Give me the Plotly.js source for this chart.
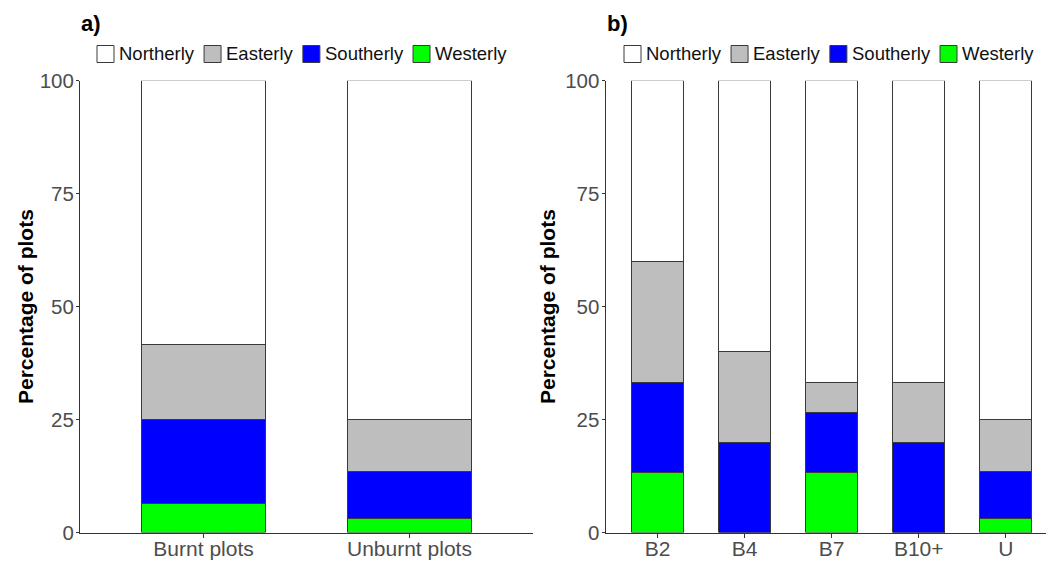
<!DOCTYPE html>
<html><head><meta charset="utf-8">
<script src="https://cdn.plot.ly/plotly-3.0.1.min.js"></script>
<style>html,body{margin:0;padding:0;background:#fff}#chart{width:1046px;height:561px}</style>
</head><body><div id="chart"></div>
<script>
// ---- data ----
const categoriesA = ['Burnt plots', 'Unburnt plots'];
const northerlyA = [58.4, 75.0];
const easterlyA  = [16.6, 11.6];
const southerlyA = [18.6, 10.2];
const westerlyA  = [6.4, 3.2];

const categoriesB = ['B2', 'B4', 'B7', 'B10+', 'U'];
const northerlyB = [40.0, 60.0, 66.7, 66.7, 75.0];
const easterlyB  = [26.7, 20.0, 6.7, 13.3, 11.6];
const southerlyB = [20.0, 20.0, 13.3, 20.0, 10.2];
const westerlyB  = [13.3, 0, 13.3, 0, 3.2];

const seriesNames = ['Northerly', 'Easterly', 'Southerly', 'Westerly'];
const yTickValues = [0, 25, 50, 75, 100];
const panelLabels = ['a)', 'b)'];
const yAxisTitle = 'Percentage of plots';

// ---- style ----
const W = 1046, H = 561;
const FONT = 'Liberation Sans, Arial, sans-serif';
const colors = {Northerly: '#ffffff', Easterly: '#bebebe', Southerly: '#0000ff', Westerly: '#00ff00'};
const outline = '#3a3a3a';
const stackOrder = ['Westerly', 'Southerly', 'Easterly', 'Northerly'];

const dataA = {Northerly: northerlyA, Easterly: easterlyA, Southerly: southerlyA, Westerly: westerlyA};
const dataB = {Northerly: northerlyB, Easterly: easterlyB, Southerly: southerlyB, Westerly: westerlyB};

const traces = [];
[[categoriesA, dataA, 'x', 'y'], [categoriesB, dataB, 'x2', 'y2']].forEach(([cats, data, xa, ya]) => {
  stackOrder.forEach(name => {
    traces.push({
      type: 'bar', x: cats, y: data[name], name: name, xaxis: xa, yaxis: ya,
      width: 0.6, showlegend: false, hoverinfo: 'skip',
      marker: {color: colors[name], line: {color: outline, width: 1}}
    });
  });
});

const px = x => x / W;
const py = y => 1 - y / H;

const xAxisBase = {
  type: 'category', showgrid: false, zeroline: false, showline: true,
  linecolor: '#333333', linewidth: 1, ticks: 'outside', ticklen: 4, tickcolor: '#333333',
  ticklabelstandoff: -7,
  tickfont: {family: FONT, size: 21, color: '#4d4d4d'}, fixedrange: true
};
const yAxisBase = {
  range: [0, 100], domain: [py(532.5), py(80.7)], tickvals: yTickValues,
  showgrid: false, zeroline: false, showline: true, linecolor: '#333333', linewidth: 1,
  ticks: 'outside', ticklen: 3, tickcolor: '#333333', ticklabelstandoff: -2,
  tickfont: {family: FONT, size: 20.5, color: '#4d4d4d'}, fixedrange: true
};
const yTitle = standoff => ({text: '<b>' + yAxisTitle + '</b>',
  font: {family: FONT, size: 21, color: '#000000'}, standoff: standoff});

const shapes = [];
const annotations = [];

// legends
const LEGEND_SIZE = 18.5;
const ctx = document.createElement('canvas').getContext('2d');
ctx.font = LEGEND_SIZE + 'px "Liberation Sans"';
function buildLegend(startX, yc) {
  let x = startX;
  seriesNames.forEach(name => {
    shapes.push({type: 'rect', xref: 'paper', yref: 'paper',
      x0: px(x), x1: px(x + 17), y0: py(yc + 8.5), y1: py(yc - 8.5),
      fillcolor: colors[name], line: {color: outline, width: 1}});
    const tx = x + 22;
    annotations.push({xref: 'paper', yref: 'paper', x: px(tx), y: py(yc),
      xanchor: 'left', yanchor: 'middle', text: name, showarrow: false,
      borderpad: 0, borderwidth: 0,
      font: {family: FONT, size: LEGEND_SIZE, color: '#111111'}});
    x = tx + ctx.measureText(name).width + 10;
  });
}
buildLegend(97, 54);
buildLegend(624, 54);

// panel labels
[[81, panelLabels[0]], [607, panelLabels[1]]].forEach(([x, t]) => {
  annotations.push({xref: 'paper', yref: 'paper', x: px(x), y: py(24),
    xanchor: 'left', yanchor: 'middle', text: '<b>' + t + '</b>', showarrow: false,
    borderpad: 0, borderwidth: 0, font: {family: FONT, size: 22, color: '#000000'}});
});

const layout = {
  width: W, height: H, margin: {l: 0, r: 0, t: 0, b: 0},
  paper_bgcolor: '#ffffff', plot_bgcolor: '#ffffff',
  barmode: 'stack', showlegend: false,
  xaxis: Object.assign({}, xAxisBase, {domain: [px(80), px(533)], range: [-0.6, 1.6], anchor: 'y'}),
  xaxis2: Object.assign({}, xAxisBase, {domain: [px(605.5), 1], range: [-0.6, 4.463], anchor: 'y2'}),
  yaxis: Object.assign({}, yAxisBase, {anchor: 'x', title: yTitle(0)}),
  yaxis2: Object.assign({}, yAxisBase, {anchor: 'x2', title: yTitle(3)}),
  shapes: shapes, annotations: annotations
};

Plotly.newPlot('chart', traces, layout, {staticPlot: true, displayModeBar: false});
</script>
</body></html>
